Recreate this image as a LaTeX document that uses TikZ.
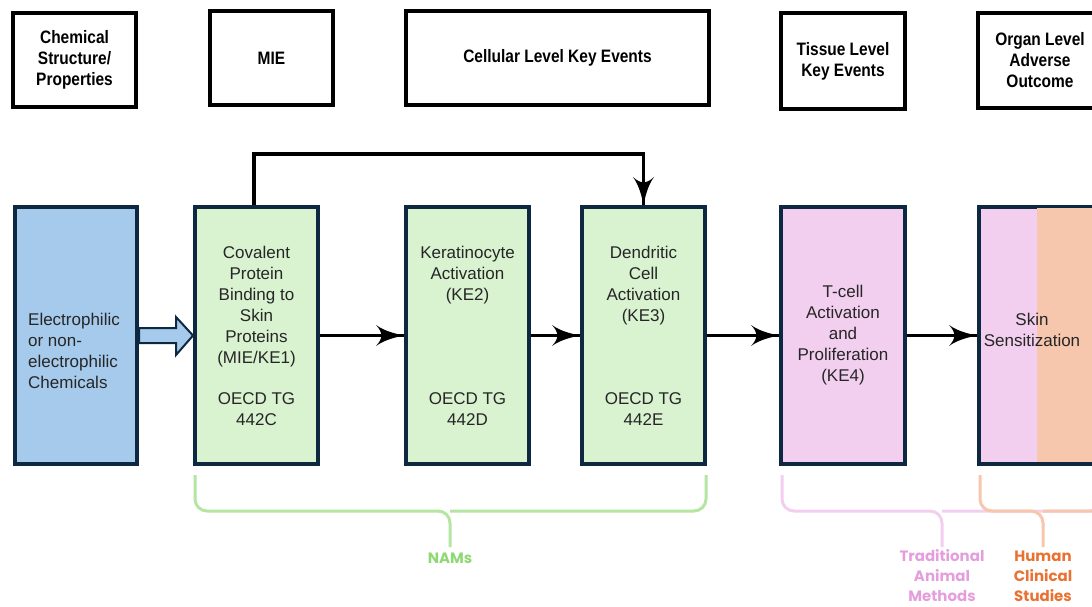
\documentclass[tikz,border=0pt]{standalone}
\usepackage{fontspec}
\setmainfont{Liberation Sans}
\newfontfamily\headfont[FakeStretch=0.86]{Liberation Sans}
\newfontfamily\bracefont{Poppins}
\usepackage{tikz}
\usetikzlibrary{arrows}
\usetikzlibrary{decorations.markings}
\usetikzlibrary{positioning}
\definecolor{boxline}{HTML}{0E2841}
\definecolor{chemfill}{HTML}{A6CAEC}
\definecolor{namfill}{HTML}{D9F2D0}
\definecolor{animalfill}{HTML}{F2CEEF}
\definecolor{humanfill}{HTML}{F6C6AD}
\definecolor{nambrace}{HTML}{B4E5A2}
\definecolor{namtext}{HTML}{8ED973}
\definecolor{animaltext}{HTML}{E59EDD}
\definecolor{humantext}{HTML}{E97132}
\tikzset{flow/.style = {line width = 3.5, decoration={markings,
                                  mark=at position 1 with {\arrow[scale=2.1]{latex'}}},
                      postaction={decorate}}}
\tikzset{hdr/.style = {draw, line width = 4, minimum height = 94, align = center,
                       font = \headfont\bfseries\fontsize{18}{21}\selectfont}}
\tikzset{event/.style = {draw = boxline, line width = 4, minimum height = 257,
                         minimum width = 123, align = center, text = black!85,
                         font = \fontsize{17}{21}\selectfont}}
\tikzset{brace/.style = {line width = 3, rounded corners = 12}}
\tikzset{bracelabel/.style = {align = center, font = \bracefont\bfseries\fontsize{15}{20}\selectfont}}

\begin{document}
\begin{tikzpicture}[x = 1pt, y = -1pt]
      \useasboundingbox (0, 0) rectangle (1092, 606);
      \clip (0, 0) rectangle (1092, 606);
      % header row
      \node [hdr, minimum width = 123] (hchem) at (74.5, 60) {Chemical\\Structure/\\Properties};
      \node [hdr, minimum width = 123] (hmie) at (271.5, 58) {MIE};
      \node [hdr, minimum width = 303] (hcell) at (557.5, 58) {Cellular Level Key Events};
      \node [hdr, minimum width = 124, minimum height = 96] (htissue) at (843, 61) {Tissue Level\\Key Events};
      \node [hdr, minimum width = 124, minimum height = 95] (horgan) at (1040, 60.5) {Organ Level\\Adverse\\Outcome};
      % key events
      \node [event, fill = chemfill, minimum width = 122] (chem) at (76, 335.5) {};
      \node [event, draw = none, minimum width = 0, minimum height = 0, align = left] (chemtext) at (74, 350.5)
            {Electrophilic\\or non-\\electrophilic\\Chemicals};
      \node [event, fill = namfill] (mie) at (256.5, 335.5)
            {Covalent\\Protein\\Binding to\\Skin\\Proteins\\(MIE/KE1)\\[20pt]OECD TG\\442C};
      \node [event, fill = namfill] (kera) at (467.5, 335.5)
            {Keratinocyte\\Activation\\(KE2)\\[83pt]OECD TG\\442D};
      \node [event, fill = namfill] (dend) at (643.5, 335.5)
            {Dendritic\\Cell\\Activation\\(KE3)\\[62pt]OECD TG\\442E};
      \node [event, fill = animalfill, minimum width = 124] (tcell) at (843, 335.5)
            {T-cell\\Activation\\and\\Proliferation\\(KE4)};
      \node [event, fill = animalfill, minimum width = 130] (skin) at (1044, 335.5) {};
      \fill [humanfill] (1037, 208) rectangle (1120, 462);
      \node [event, draw = none, minimum width = 0, minimum height = 0] (skintext) at (1032, 330)
            {Skin\\Sensitization};
      % arrows
      \draw [line width = 2, draw = boxline, fill = chemfill, line join = miter]
            (chem.east) ++(0, -7.5) -- ++(37, 0) -- ++(0, -11) -- (mie.west)
            -- ++(-17, 19.5) -- ++(0, -12) -- ++(-37, 0) -- cycle;
      \draw [flow] (mie.east) -- (kera.west);
      \draw [flow] (kera.east) -- (dend.west);
      \draw [flow] (dend.east) -- (tcell.west);
      \draw [flow] (tcell.east) -- (skin.west);
      \draw [flow] (mie.north) ++(-2.5, 0) -- ++(0, -51) -| (dend.north);
      % braces
      \draw [brace, nambrace] (195, 475) |- (450, 511) -- (450, 547);
      \draw [brace, nambrace] (706, 475) |- (450, 511);
      \draw [brace, animalfill] (782, 475) |- (942, 511) -- (942, 547);
      \draw [brace, animalfill] (1102, 475) |- (942, 511);
      \draw [brace, humanfill] (980, 475) |- (1043, 511) -- (1043, 547);
      \draw [brace, humanfill] (1106, 475) |- (1043, 511);
      \node [bracelabel, text = namtext] (nams) at (450, 558) {NAMs};
      \node [bracelabel, text = animaltext] (animal) at (942, 576) {Traditional\\Animal\\Methods};
      \node [bracelabel, text = humantext] (human) at (1043, 576) {Human\\Clinical\\Studies};
    \end{tikzpicture}
\end{document}
